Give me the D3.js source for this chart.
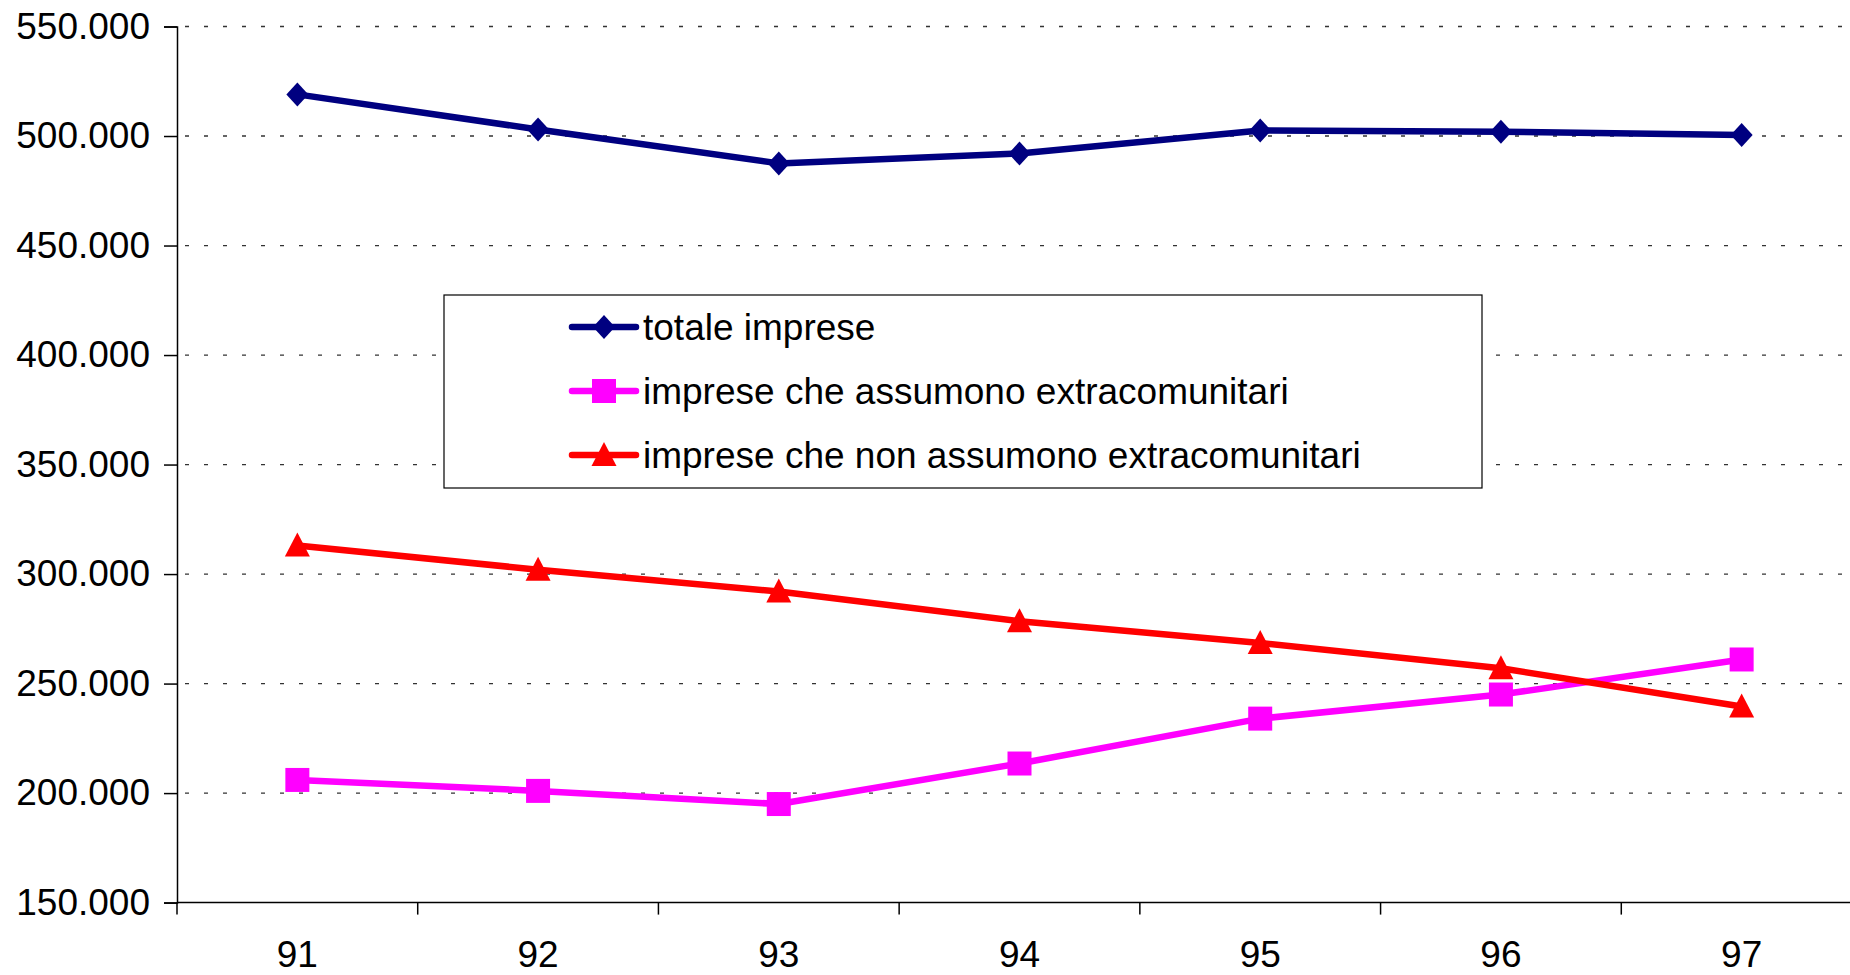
<!DOCTYPE html>
<html>
<head>
<meta charset="utf-8">
<script src="https://cdn.jsdelivr.net/npm/d3@7"></script>
<style>
  body { margin: 0; background: #fff; }
  svg { display: block; font-family: "Liberation Sans", Arial, sans-serif; }
</style>
</head>
<body>
<div id="chart"></div>
<script>
// Imprese e assunzioni di extracomunitari, 1991-1997

const years = ["91", "92", "93", "94", "95", "96", "97"];
const totaleImprese = [519000, 503000, 487500, 492000, 502500, 502000, 500500];
const impreseAssumono = [206000, 201000, 195000, 213500, 234000, 245000, 261000];
const impreseNonAssumono = [313000, 302000, 292000, 278500, 268500, 257000, 239500];
const yTicks = [150000, 200000, 250000, 300000, 350000, 400000, 450000, 500000, 550000];

const seriesNames = ["totale imprese", "imprese che assumono extracomunitari", "imprese che non assumono extracomunitari"];

const width = 1850,
    height = 975,
    margin = ({ top: 26.5, right: -12, bottom: 72.4, left: 177 });

const series = [
  { name: seriesNames[0], values: totaleImprese, color: "#000080", symbol: "diamond" },
  { name: seriesNames[1], values: impreseAssumono, color: "#FF00FF", symbol: "square" },
  { name: seriesNames[2], values: impreseNonAssumono, color: "#FF0000", symbol: "triangle" }
];

const it = d3.formatLocale({ decimal: ",", thousands: ".", grouping: [3], currency: ["", "€"] });
const fmt = it.format(",.0f");

const svg = d3.select("#chart")
  .append("svg")
  .attr("width", width)
  .attr("height", height);

const x = d3.scaleBand()
  .domain(years)
  .range([margin.left, width - margin.right]);

const y = d3.scaleLinear()
  .domain([150000, 550000])
  .range([height - margin.bottom, margin.top]);

// gridlines
svg.append("g")
  .selectAll("line")
  .data(yTicks.slice(1))
  .join("line")
  .attr("x1", margin.left)
  .attr("x2", width)
  .attr("y1", d => y(d))
  .attr("y2", d => y(d))
  .attr("stroke", "#333")
  .attr("stroke-width", 1.3)
  .attr("stroke-dasharray", "4 15")
  .attr("stroke-dashoffset", -8);

// y axis
const yAxis = svg.append("g")
  .attr("transform", `translate(${margin.left},0)`)
  .call(d3.axisLeft(y).tickValues(yTicks).tickSize(13).tickPadding(14).tickFormat(fmt));
yAxis.select(".domain").attr("stroke", "#000").attr("stroke-width", 1.5);
yAxis.selectAll(".tick line").attr("stroke", "#000").attr("stroke-width", 1.5);
yAxis.selectAll("text")
  .attr("font-size", 37)
  .attr("fill", "#000")
  .attr("font-family", "Liberation Sans, Arial, sans-serif");

// x axis: ticks on band boundaries, labels in the middle
const xAxis = svg.append("g")
  .attr("transform", `translate(0,${height - margin.bottom})`);
xAxis.append("line")
  .attr("x1", margin.left)
  .attr("x2", width)
  .attr("stroke", "#000")
  .attr("stroke-width", 1.5);
xAxis.selectAll(".xtick")
  .data(years)
  .join("line")
  .attr("class", "xtick")
  .attr("x1", d => x(d))
  .attr("x2", d => x(d))
  .attr("y1", 0)
  .attr("y2", 12)
  .attr("stroke", "#000")
  .attr("stroke-width", 1.5);
xAxis.selectAll(".xlabel")
  .data(years)
  .join("text")
  .attr("class", "xlabel")
  .attr("x", d => x(d) + x.bandwidth() / 2)
  .attr("y", 64)
  .attr("text-anchor", "middle")
  .attr("font-size", 37)
  .text(d => d);

const cx = (d, i) => x(years[i]) + x.bandwidth() / 2;

const line = d3.line()
  .x((d, i) => cx(d, i))
  .y(d => y(d));

const symbolPath = (type) => {
  if (type === "diamond") return "M0,-12L11,0L0,12L-11,0Z";
  if (type === "square") return "M-12,-12H12V12H-12Z";
  return "M0,-13L12.5,11H-12.5Z";
};

const lines = svg.append("g");
series.forEach(s => {
  const g = lines.append("g");
  g.append("path")
    .datum(s.values)
    .attr("fill", "none")
    .attr("stroke", s.color)
    .attr("stroke-width", 6.5)
    .attr("stroke-linejoin", "round")
    .attr("d", line);
  g.selectAll("path.m")
    .data(s.values)
    .join("path")
    .attr("class", "m")
    .attr("transform", (d, i) => `translate(${cx(d, i)},${y(d)})`)
    .attr("d", symbolPath(s.symbol))
    .attr("fill", s.color);
});

// legend
const legend = svg.append("g")
  .attr("transform", "translate(444,295)");
legend.append("rect")
  .attr("width", 1038)
  .attr("height", 193)
  .attr("fill", "#fff")
  .attr("stroke", "#000")
  .attr("stroke-width", 1.2);

const rows = legend.selectAll("g.row")
  .data(series)
  .join("g")
  .attr("class", "row")
  .attr("transform", (d, i) => `translate(0,${32 + i * 64})`);
rows.append("line")
  .attr("x1", 128)
  .attr("x2", 192)
  .attr("stroke", d => d.color)
  .attr("stroke-width", 6.5)
  .attr("stroke-linecap", "round");
rows.append("path")
  .attr("transform", "translate(160,0)")
  .attr("d", d => symbolPath(d.symbol))
  .attr("fill", d => d.color);
rows.append("text")
  .attr("x", 199)
  .attr("y", 13)
  .attr("font-size", 37)
  .text(d => d.name);
</script>
</body>
</html>
